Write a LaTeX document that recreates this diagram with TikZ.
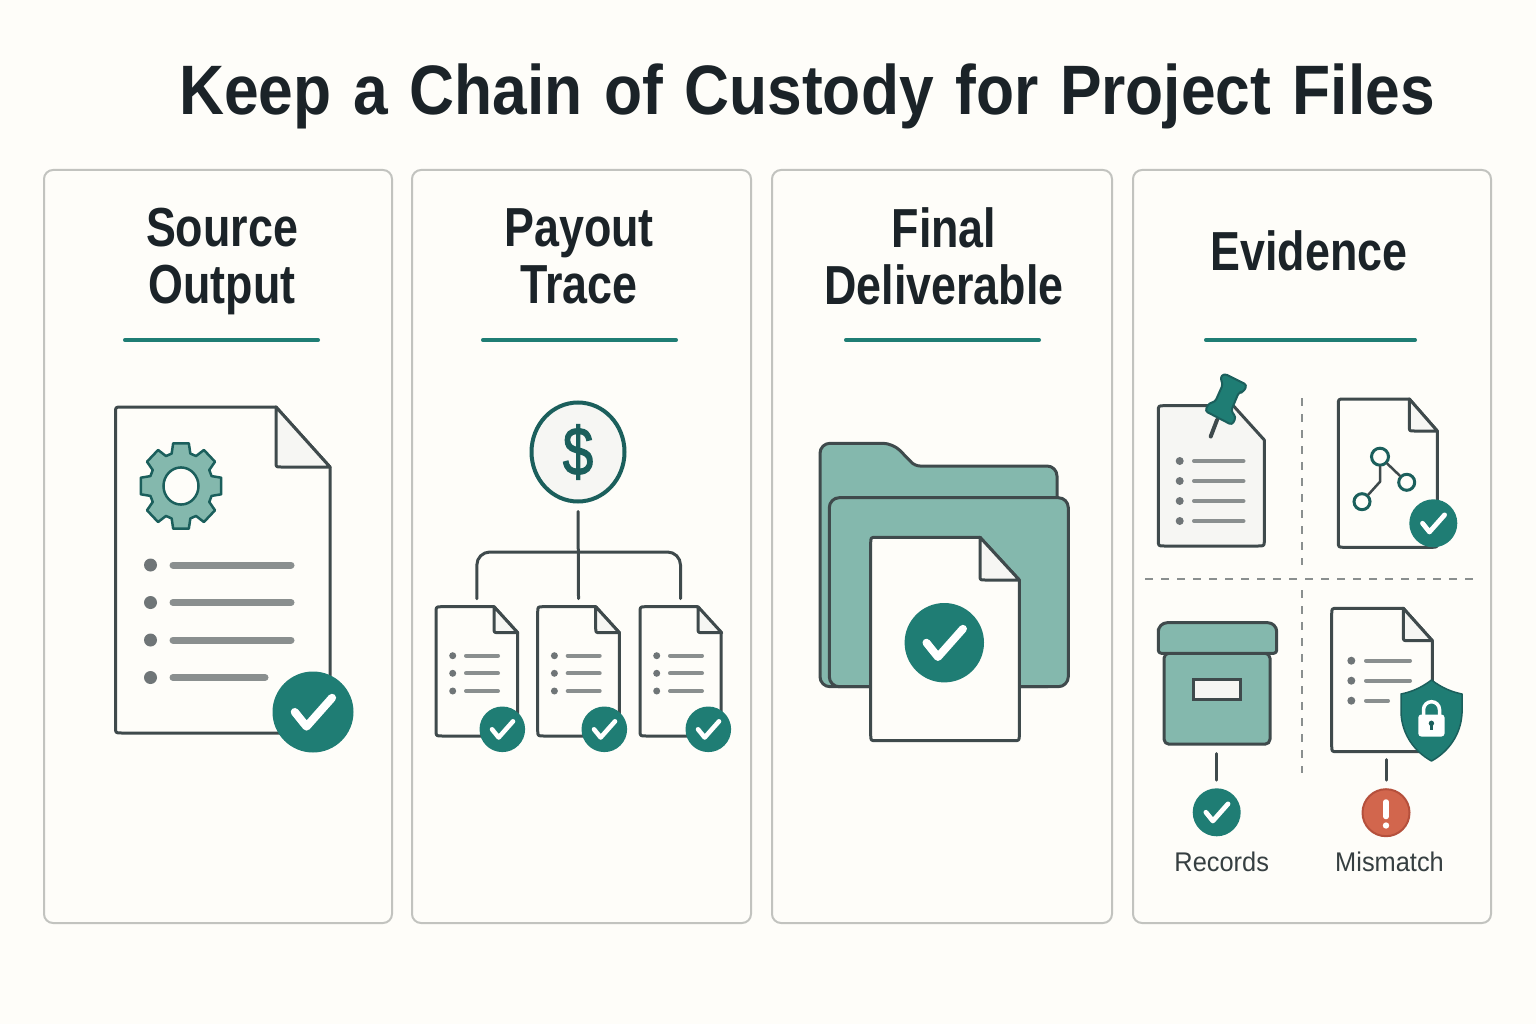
\documentclass[tikz,border=0pt]{standalone}
\usepackage{fontspec}
\setmainfont{Liberation Sans}
\newfontfamily\titlefont[WordSpace=1.25]{Liberation Sans}
\newfontfamily\coinfont[FakeBold=2]{Liberation Sans}
\usetikzlibrary{shapes.geometric}

\definecolor{paper}{HTML}{FEFDF9}
\definecolor{cardline}{HTML}{C2C3BF}
\definecolor{ink}{HTML}{1B2328}
\definecolor{slate}{HTML}{3F4A4C}
\definecolor{teal}{HTML}{1F7D74}
\definecolor{deepteal}{HTML}{1B5F5C}
\definecolor{softteal}{HTML}{84B8AD}
\definecolor{rowgray}{HTML}{8A8F8F}
\definecolor{dotgray}{HTML}{6F7577}
\definecolor{flapgray}{HTML}{F6F6F3}
\definecolor{alert}{HTML}{D2664D}
\definecolor{alertline}{HTML}{B5503C}

% sheet outline: [fill] name, left, top, width, height, fold x, fold y
\newcommand{\filesheet}[8][paper]{
  \node [sheetarea,minimum width=#5pt,minimum height=#6pt] (#2) at (#3+#5/2,#4+#6/2) {};
  \draw [sheet,fill=#1,shift={(#3,#4)}] (#5-#7,0) -- (#5,#8) -- (#5,#6-6)
    .. controls (#5,#6) .. (#5-6,#6) -- (6,#6) .. controls (0,#6) .. (0,#6-6)
    -- (0,6) .. controls (0,0) .. (6,0) -- cycle;
}
% folded corner: left, top, width, fold x, fold y
\newcommand{\fileflap}[5]{
  \draw [sheet,fill=flapgray,shift={(#1,#2)}] (#3-#4,0) -- (#3-#4,#5-5)
    .. controls (#3-#4,#5) .. (#3-#4+5,#5) -- (#3,#5) -- cycle;
}
% round check mark: name, x, y, radius
\newcommand{\okbadge}[4]{
  \node [okdisc,minimum size=#4*2pt] (#1) at (#2,#3) {};
  \draw [tick,line width=#4*.2pt,shift={(#2,#3)}] (-.45*#4,0) -- (-.16*#4,.36*#4) -- (.47*#4,-.35*#4);
}

\begin{document}
\begin{tikzpicture}[x=1pt,y=-1pt]
    \tikzstyle{sheetarea}=[rectangle,inner sep=0pt,outer sep=0pt]
    \tikzstyle{sheet}=[draw=slate,line width=3pt,line join=round]
    \tikzstyle{okdisc}=[circle,fill=teal,inner sep=0pt]
    \tikzstyle{tick}=[draw=white,line cap=round,line join=round]
    \tikzstyle{card}=[rectangle,draw=cardline,line width=2pt,rounded corners=9pt,fill=paper,inner sep=0pt]
    \tikzstyle{heading}=[font=\fontsize{55}{57}\selectfont\bfseries,text=ink,align=center,xscale=.815]
    \tikzstyle{rule}=[draw=teal,line width=3.5pt,line cap=round]
    \tikzstyle{rowline}=[draw=rowgray,line cap=round]
    \tikzstyle{wire}=[draw=slate,line width=3pt,line cap=round]
    \tikzstyle{divider}=[draw=rowgray,line width=2pt,dash pattern=on 8pt off 8pt]
    \tikzstyle{caption}=[font=\fontsize{27}{30}\selectfont,text=slate!85!black,xscale=.94]
    \tikzstyle{graphdot}=[circle,draw=deepteal,line width=3pt,fill=paper,minimum size=16pt,inner sep=0pt]
    \tikzstyle{soft}=[fill=softteal,draw=slate,line width=3pt,line join=round]

    \fill [paper] (0,0) rectangle (1536,1024);
    \useasboundingbox (0,0) rectangle (1536,1024);

    \node [font=\fontsize{70}{74}\titlefont\bfseries,text=ink,xscale=.89] (title) at (807,96) {Keep a Chain of Custody for Project Files};

    \node [card,minimum width=348pt,minimum height=753pt] (source) at (218,546.5) {};
    \node [card,minimum width=339pt,minimum height=753pt] (payout) at (581.5,546.5) {};
    \node [card,minimum width=340pt,minimum height=753pt] (final) at (942,546.5) {};
    \node [card,minimum width=358pt,minimum height=753pt] (evidence) at (1312,546.5) {};

    \node [heading] (h1) at (222,261.5) {Source\\Output};
    \node [heading] (h2) at (579,256) {Payout\\Trace};
    \node [heading] (h3) at (944,256) {Final\\Deliverable};
    \node [heading] (h4) at (1309,251) {Evidence};

    \draw [rule] (124.75,340) -- (318.25,340);
    \draw [rule] (482.75,340) -- (676.25,340);
    \draw [rule] (845.75,340) -- (1039.25,340);
    \draw [rule] (1205.75,340) -- (1415.25,340);

    % source output
    \filesheet{srcdoc}{115.5}{407}{214.5}{326}{54}{60}
    \fileflap{115.5}{407}{214.5}{54}{60}
    \begin{scope}[shift={(181,486)},yscale=1.06]
      \draw [fill=softteal,draw=deepteal,line width=2.5pt,line join=round] (-17:32)
        \foreach \a in {0,45,...,315} { -- (\a-17:32) -- (\a-11:41) -- (\a+11:41) -- (\a+17:32) } -- cycle;
      \draw [fill=paper,draw=deepteal,line width=2.5pt] (0,0) circle (17.5);
    \end{scope}
    \foreach \y in {565,602.5,640,677.5}
      \fill [dotgray] (150.5,\y) circle (6.5);
    \foreach \y in {565,602.5,640}
      \draw [rowline,line width=7pt] (173,\y) -- (291,\y);
    \draw [rowline,line width=7pt] (173,677.5) -- (265,677.5);
    \okbadge{srcok}{313}{712}{40.5}

    % payout trace
    \node [ellipse,draw=deepteal,line width=4pt,fill=flapgray,minimum width=93pt,minimum height=99pt,inner sep=0pt] (coin) at (578,452) {};
    \node [font=\fontsize{68}{68}\coinfont,text=deepteal,xscale=.8] (coinsign) at (coin) {\$};
    \filesheet{pay1}{436}{606.7}{81.7}{129.3}{23.7}{26}
    \filesheet{pay2}{537.7}{606.7}{81.7}{129.3}{23.7}{26}
    \filesheet{pay3}{640}{606.7}{81}{129.3}{23.7}{26}
    \foreach \x in {436,537.7,640} {
      \fileflap{\x}{606.7}{81.7}{23.7}{26}
      \foreach \y in {655.7,673.3,691} {
        \fill [dotgray] (\x+16.7,\y) circle (3.5);
        \draw [rowline,line width=4pt] (\x+30,\y) -- (\x+62,\y);
      }
    }
    \draw [wire,shorten <=8pt,shorten >=8pt] (coin.south) -- (pay2.north);
    \draw [wire,shorten >=8pt,rounded corners=13pt] (pay1.north) ++(0,-8) -- ++(0,-46.7) -| (pay3.north);
    \okbadge{payok1}{502.3}{729.3}{22.8}
    \okbadge{payok2}{604.3}{729.3}{22.8}
    \okbadge{payok3}{708.3}{729.3}{22.8}

    % final deliverable
    \draw [soft,rounded corners=10pt] (820,686.7) -- (820,443.3) -- (893,443.3) [rounded corners=5pt] -- (915,466) [rounded corners=10pt] -- (1057,466) -- (1057,560) -- (1057,686.7) -- cycle;
    \draw [soft,rounded corners=10pt] (829.3,497.7) rectangle (1068.3,686.7);
    \filesheet{finaldoc}{870.7}{537.3}{148.6}{203.4}{39.3}{42.7}
    \fileflap{870.7}{537.3}{148.6}{39.3}{42.7}
    \okbadge{finalok}{944.3}{642.7}{39.7}

    % evidence
    \draw [divider] (1302,398) -- (1302,565);
    \draw [divider] (1302,590) -- (1302,773);
    \draw [divider] (1145,579) -- (1473,579);

    \filesheet[flapgray]{note}{1158.3}{405.7}{106}{140.3}{31}{34.3}
    \foreach \y in {461,481,501,521} {
      \fill [dotgray] (1179.7,\y) circle (4);
      \draw [rowline,line width=4pt] (1194,\y) -- (1243.5,\y);
    }
    \draw [draw=slate,line width=4pt,line cap=round] (1217,420) -- (1210.7,436.5);
    \draw [fill=teal,draw=deepteal,line width=2pt,rounded corners=3pt,line join=round]
      (1220,378) -- (1224,373.5) -- (1247,385) -- (1243,392.5) -- (1239,392) -- (1231,411) -- (1236,417)
      -- (1232,425) -- (1205,411) -- (1209,403) -- (1215,402) -- (1223,384) -- cycle;

    \filesheet{graphdoc}{1338.3}{399}{99}{148.3}{28}{32}
    \fileflap{1338.3}{399}{99}{28}{32}
    \node [graphdot,minimum size=17pt] (g1) at (1380,456.7) {};
    \node [graphdot] (g2) at (1406.7,482.3) {};
    \node [graphdot] (g3) at (1362,501.7) {};
    \coordinate (graphbend) at (1380,481.7);
    \draw [wire,line width=2.5pt] (g1) -- (g2);
    \draw [wire,line width=2.5pt] (g1) -- (graphbend) -- (g3);
    \okbadge{graphok}{1433.3}{523.3}{24}

    \node [rectangle,soft,rounded corners=5pt,minimum width=106pt,minimum height=91pt,inner sep=0pt] (crate) at (1217,698.7) {};
    \draw [soft,rounded corners=3pt] (1158.3,653.3) -- (1158.3,632) [rounded corners=9pt] -- (1158.3,622.7) -- (1276.7,622.7) -- (1276.7,640) [rounded corners=3pt] -- (1276.7,653.3) -- cycle;
    \node [rectangle,draw=slate,line width=3pt,fill=flapgray,minimum width=47pt,minimum height=20pt,inner sep=0pt] (cratelabel) at (1217,689.3) {};
    \okbadge{recordsok}{1216.7}{812.3}{24}
    \draw [wire,shorten <=8pt,shorten >=8pt] (crate.south -| recordsok.north) -- (recordsok.north);
    \node [caption] (records) at (1221.7,862) {Records};

    \filesheet{mismatchdoc}{1331.7}{608.3}{100.6}{143.4}{29}{32.4}
    \fileflap{1331.7}{608.3}{100.6}{29}{32.4}
    \foreach \y in {660.7,680.7,700.7}
      \fill [dotgray] (1351.3,\y) circle (4);
    \foreach \y in {660.7,680.7}
      \draw [rowline,line width=4pt] (1366,\y) -- (1410,\y);
    \draw [rowline,line width=4pt] (1366,700.7) -- (1388,700.7);
    \draw [fill=teal,draw=deepteal,line width=1.5pt,line join=round] (1431.5,680)
      .. controls (1421,688) and (1411,692) .. (1401,694) -- (1401,713)
      .. controls (1402,735) and (1415,752) .. (1431.5,761)
      .. controls (1448,752) and (1461,735) .. (1462,713) -- (1462,694)
      .. controls (1452,692) and (1442,688) .. (1431.5,680) -- cycle;
    \draw [draw=white,line width=3.5pt] (1423.5,718) -- (1423.5,709.7) arc [start angle=180,end angle=360,radius=8] -- (1439.5,718);
    \fill [white,rounded corners=3pt] (1418.3,714.5) rectangle (1444.5,736.5);
    \fill [deepteal] (1431.4,723.3) circle (2.7);
    \draw [draw=deepteal,line width=2.2pt] (1431.4,723.3) -- (1431.4,730);
    \node [circle,fill=alert,draw=alertline,line width=2pt,minimum size=47pt,inner sep=0pt] (mismatchbad) at (1386,812.7) {};
    \draw [draw=white,line width=5.5pt,line cap=round] (1386,802) -- (1386,816.5);
    \fill [white] (1386,825.5) circle (3.2);
    \draw [wire,shorten <=8pt,shorten >=8pt] (mismatchdoc.south -| mismatchbad.north) -- (mismatchbad.north);
    \node [caption] (mismatch) at (1389.5,862) {Mismatch};
\end{tikzpicture}
\end{document}
